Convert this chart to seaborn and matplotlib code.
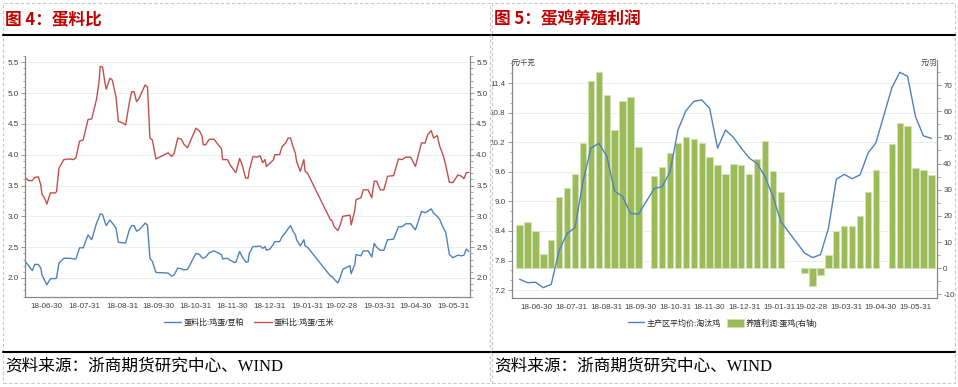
import numpy as np
import pandas as pd
import matplotlib
matplotlib.use('Agg')
import matplotlib.pyplot as plt
import matplotlib.dates as mdates
from matplotlib.ticker import MultipleLocator, FormatStrFormatter
from matplotlib.lines import Line2D
from matplotlib.patches import Patch, Rectangle
import seaborn as sns

# ---- data: egg / feed ratio (left chart) ----
ratio_dates = [
    '2018-06-12', '2018-06-15', '2018-06-18', '2018-06-20', '2018-06-23', '2018-06-25', '2018-06-26',
    '2018-06-28', '2018-06-30', '2018-07-03', '2018-07-07', '2018-07-08', '2018-07-10', '2018-07-14',
    '2018-07-19', '2018-07-22', '2018-07-24', '2018-07-27', '2018-07-30', '2018-08-03', '2018-08-06',
    '2018-08-10', '2018-08-12', '2018-08-13', '2018-08-15', '2018-08-17', '2018-08-18', '2018-08-21',
    '2018-08-23', '2018-08-26', '2018-08-28', '2018-09-01', '2018-09-03', '2018-09-06', '2018-09-08',
    '2018-09-10', '2018-09-12', '2018-09-14', '2018-09-17', '2018-09-19', '2018-09-21', '2018-09-23',
    '2018-09-25', '2018-09-28', '2018-10-08', '2018-10-11', '2018-10-13', '2018-10-16', '2018-10-19',
    '2018-10-21', '2018-10-24', '2018-10-27', '2018-10-31', '2018-11-03', '2018-11-05', '2018-11-06',
    '2018-11-08', '2018-11-11', '2018-11-15', '2018-11-18', '2018-11-21', '2018-11-22', '2018-11-26',
    '2018-11-28', '2018-12-02', '2018-12-03', '2018-12-06', '2018-12-08', '2018-12-11', '2018-12-13',
    '2018-12-14', '2018-12-17', '2018-12-20', '2018-12-23', '2018-12-25', '2018-12-27', '2018-12-28',
    '2018-12-31', '2019-01-03', '2019-01-04', '2019-01-08', '2019-01-10', '2019-01-13', '2019-01-15',
    '2019-01-17', '2019-01-19', '2019-01-21', '2019-01-22', '2019-01-25', '2019-01-28', '2019-01-29',
    '2019-01-31', '2019-02-19', '2019-02-20', '2019-02-22', '2019-02-25', '2019-02-27', '2019-03-01',
    '2019-03-07', '2019-03-08', '2019-03-11', '2019-03-12', '2019-03-16', '2019-03-18', '2019-03-22',
    '2019-03-25', '2019-03-27', '2019-03-29', '2019-04-01', '2019-04-04', '2019-04-07', '2019-04-12',
    '2019-04-16', '2019-04-19', '2019-04-22', '2019-04-26', '2019-04-30', '2019-05-05', '2019-05-08',
    '2019-05-10', '2019-05-13', '2019-05-15', '2019-05-18', '2019-05-20', '2019-05-23', '2019-05-25',
    '2019-05-28', '2019-05-31', '2019-06-04', '2019-06-07', '2019-06-09', '2019-06-11', '2019-06-13',
]
ratio_soymeal = [
    2.27, 2.20, 2.12, 2.22, 2.22, 2.16, 2.05, 1.97, 1.89, 1.99, 1.99, 2.00, 2.24, 2.32,
    2.32, 2.31, 2.31, 2.49, 2.49, 2.70, 2.62, 2.89, 2.98, 3.04, 3.03, 2.90, 2.85, 2.94,
    2.89, 2.81, 2.58, 2.57, 2.57, 2.78, 2.85, 2.85, 2.76, 2.78, 2.84, 2.89, 2.86, 2.32,
    2.27, 2.09, 2.08, 2.03, 2.05, 2.16, 2.15, 2.13, 2.14, 2.25, 2.40, 2.38, 2.33, 2.32,
    2.34, 2.41, 2.44, 2.41, 2.38, 2.31, 2.32, 2.29, 2.25, 2.26, 2.43, 2.35, 2.26, 2.26,
    2.40, 2.51, 2.51, 2.52, 2.48, 2.51, 2.45, 2.47, 2.55, 2.59, 2.59, 2.67, 2.74, 2.80,
    2.85, 2.76, 2.70, 2.62, 2.52, 2.62, 2.52, 2.50, 2.03, 2.03, 1.98, 1.92, 2.01, 2.14,
    2.20, 2.07, 2.22, 2.38, 2.36, 2.44, 2.44, 2.34, 2.56, 2.50, 2.45, 2.45, 2.62, 2.63,
    2.83, 2.83, 2.88, 2.88, 2.78, 3.08, 3.06, 3.08, 3.12, 3.05, 3.00, 2.95, 2.81, 2.74,
    2.38, 2.33, 2.37, 2.36, 2.37, 2.47, 2.43,
]
ratio_corn = [
    3.63, 3.58, 3.58, 3.63, 3.64, 3.51, 3.36, 3.30, 3.20, 3.38, 3.38, 3.40, 3.78, 3.92,
    3.93, 3.92, 3.95, 4.22, 4.24, 4.57, 4.58, 4.90, 5.17, 5.43, 5.42, 5.16, 5.06, 5.24,
    5.21, 4.94, 4.54, 4.51, 4.48, 4.84, 5.02, 5.02, 4.86, 4.91, 5.04, 5.13, 5.10, 4.27,
    4.24, 3.93, 4.03, 3.97, 4.02, 4.27, 4.25, 4.17, 4.11, 4.25, 4.43, 4.38, 4.30, 4.16,
    4.16, 4.25, 4.25, 4.17, 4.10, 3.92, 3.92, 3.84, 3.73, 3.71, 3.94, 3.84, 3.62, 3.62,
    3.75, 3.97, 3.96, 3.98, 3.87, 3.92, 3.81, 3.86, 3.92, 4.00, 4.00, 4.13, 4.19, 4.27,
    4.27, 4.13, 4.02, 3.89, 3.73, 3.92, 3.73, 3.70, 2.94, 2.94, 2.83, 2.77, 2.86, 3.00,
    3.02, 2.86, 3.10, 3.27, 3.30, 3.43, 3.43, 3.30, 3.57, 3.57, 3.43, 3.43, 3.65, 3.66,
    3.93, 3.92, 3.96, 3.96, 3.81, 4.19, 4.19, 4.32, 4.39, 4.27, 4.31, 4.14, 3.98, 3.83,
    3.55, 3.55, 3.67, 3.65, 3.61, 3.71, 3.71,
]

# ---- data: layer farming profit (right chart), weekly ----
week_dates = pd.date_range('2018-06-15', periods=53, freq='7D')
cull_hen_price = [
    7.42, 7.35, 7.36, 7.25, 7.32, 8.01, 8.35, 8.47, 9.40, 10.08, 10.18, 9.92, 9.21, 9.10,
    8.76, 8.74, np.nan, 9.26, 9.30, 9.60, 10.45, 10.84, 11.03, 11.06, 10.89, 10.08, 10.45,
    10.30, 10.08, 9.88, 9.77, 9.50, 9.10, 8.59, np.nan, np.nan, 7.95, 7.86, 7.92, 8.45,
    9.45, 9.55, 9.46, 9.54, 9.98, 10.19, np.nan, 11.30, 11.62, 11.54, 10.72, 10.33, 10.28,
]
layer_profit = [
    16.6, 17.7, 14.1, 5.4, 10.9, 27.1, 30.5, 35.9, 48.0, 71.4, 75.2, 66.2, 52.8, 64.0,
    65.6, 46.5, np.nan, 35.2, 38.8, 44.2, 48.0, 50.2, 49.3, 47.8, 42.5, 39.4, 36.2,
    39.7, 39.3, 36.2, 41.9, 48.7, 37.1, 29.2, np.nan, np.nan, -2.0, -6.8, -2.7, 5.1,
    14.1, 16.0, 16.3, 19.8, 29.2, 37.4, np.nan, 47.4, 55.7, 54.3, 38.4, 37.4, 35.7,
]

month_ticks = ['2018-06-30', '2018-07-31', '2018-08-31', '2018-09-30', '2018-10-31', '2018-11-30',
               '2018-12-31', '2019-01-31', '2019-02-28', '2019-03-31', '2019-04-30', '2019-05-31']

ratio_labels = ['蛋料比:鸡蛋/豆粕', '蛋料比:鸡蛋/玉米']
profit_labels = ['主产区平均价:淘汰鸡', '养殖利润:蛋鸡(右轴)']
titles = ['图 4：蛋料比', '图 5：蛋鸡养殖利润']
source_text = '资料来源：浙商期货研究中心、WIND'

# ---- style ----
sns.set_theme(style='white')
plt.rcParams['font.family'] = ['Liberation Sans', 'Noto Sans CJK SC']

BLUE = '#4F81BD'
RED = '#C0504D'
GREEN = '#9BBB59'
SPINE = '#868686'
TXT = '#404040'
GRID = '#EBEBEB'

W, H = 958, 387
def fx(x):
    return x / W
def fy(y):
    return 1 - y / H

fig = plt.figure(figsize=(W / 100, H / 100), dpi=100)
fig.patch.set_facecolor('white')


def style_axis(ax):
    ax.spines['top'].set_visible(False)
    for s in ['left', 'right', 'bottom']:
        ax.spines[s].set_color(SPINE)
        ax.spines[s].set_linewidth(0.8)
    ax.tick_params(which='both', colors=SPINE, labelcolor=TXT, labelsize=5.8, direction='out')
    ax.tick_params(which='major', length=3, width=0.6, pad=1.5)
    ax.tick_params(which='minor', length=1.8, width=0.5)
    ax.set_xlabel('')
    ax.set_ylabel('')


def date_axis(ax, start, end):
    ax.set_xlim(pd.Timestamp(start), pd.Timestamp(end))
    ax.set_xticks(pd.to_datetime(month_ticks))
    ax.xaxis.set_major_formatter(mdates.DateFormatter('%y-%m-%d'))
    ax.xaxis.set_minor_locator(mdates.DayLocator(bymonthday=[10, 20]))


# ---- left chart ----
ratio_df = pd.DataFrame({'date': pd.to_datetime(ratio_dates),
                         'soymeal': ratio_soymeal, 'corn': ratio_corn})

ax1 = fig.add_axes([fx(25), fy(296.5), fx(470) - fx(25), fy(56) - fy(296.5)])
ax1.grid(axis='y', which='major', color=GRID, lw=0.6)
ax1.grid(axis='x', visible=False)
sns.lineplot(data=ratio_df, x='date', y='soymeal', ax=ax1, color=BLUE, lw=1.0)
sns.lineplot(data=ratio_df, x='date', y='corn', ax=ax1, color=RED, lw=1.0)
ax1.set_ylim(1.70, 5.60)
date_axis(ax1, '2018-06-12', '2019-06-14')

ax1r = ax1.twinx()
ax1r.set_ylim(ax1.get_ylim())
for ax in (ax1, ax1r):
    ax.yaxis.set_major_locator(MultipleLocator(0.5))
    ax.yaxis.set_minor_locator(MultipleLocator(0.1))
    ax.yaxis.set_major_formatter(FormatStrFormatter('%.1f'))
    style_axis(ax)
ax1r.grid(False)

fig.legend([Line2D([], [], color=BLUE, lw=1.0), Line2D([], [], color=RED, lw=1.0)], ratio_labels,
           loc='center', bbox_to_anchor=(fx(249), fy(323)), ncol=2, frameon=False,
           fontsize=5.8, handlelength=2.2, handletextpad=0.3, columnspacing=1.2)

# ---- right chart ----
ax2 = fig.add_axes([fx(511.7), fy(298), fx(937) - fx(511.7), fy(60) - fy(298)])
ax2.grid(axis='y', which='major', color=GRID, lw=0.6)
ax2.grid(axis='x', visible=False)
ax2.set_ylim(7.04, 11.87)
ax2.yaxis.set_major_locator(MultipleLocator(0.6))
ax2.yaxis.set_minor_locator(MultipleLocator(0.2))
ax2.yaxis.set_major_formatter(FormatStrFormatter('%.1f'))
date_axis(ax2, '2018-06-08', '2019-06-19')

ax2r = ax2.twinx()
profit_df = pd.DataFrame({'date': week_dates, 'profit': layer_profit, 'price': cull_hen_price})
bars = profit_df.dropna(subset=['profit'])
ax2r.bar(bars['date'], bars['profit'], width=5.6, color=GREEN, edgecolor='#D3E2B6', linewidth=0.7)
ax2r.set_ylim(-11.4, 79.6)
ax2r.yaxis.set_major_locator(MultipleLocator(10))
ax2r.yaxis.set_minor_locator(MultipleLocator(5))
ax2r.yaxis.set_major_formatter(FormatStrFormatter('%d'))
ax2r.grid(False)
for ax in (ax2, ax2r):
    style_axis(ax)

ax2top = ax2.twinx()
sns.lineplot(data=profit_df.dropna(subset=['price']), x='date', y='price', ax=ax2top, color=BLUE, lw=1.0)
ax2top.set_ylim(ax2.get_ylim())
ax2top.set_xlim(ax2.get_xlim())
ax2top.axis('off')

fig.text(fx(512), fy(63.5), '元/千克', fontsize=5.2, color=TXT, ha='left', va='center')
fig.text(fx(937), fy(63.5), '元/羽', fontsize=5.2, color=TXT, ha='right', va='center')

fig.legend([Line2D([], [], color=BLUE, lw=1.0),
            Patch(facecolor=GREEN, edgecolor='#D3E2B6', linewidth=0.7)], profit_labels,
           loc='center', bbox_to_anchor=(fx(723), fy(323)), ncol=2, frameon=False,
           fontsize=5.8, handlelength=2.0, handleheight=1.2, handletextpad=0.3, columnspacing=0.8)

# ---- report frame: titles, rules, source ----
for x0, x1, title in [(3, 490, titles[0]), (492, 955, titles[1])]:
    fig.add_artist(Rectangle((fx(x0), fy(383)), fx(x1) - fx(x0), fy(3) - fy(383),
                             transform=fig.transFigure, fill=False, edgecolor='#C8C8C8',
                             linestyle=(0, (3, 2)), lw=0.8))
    fig.add_artist(Line2D([fx(x0), fx(x1)], [fy(35), fy(35)], transform=fig.transFigure,
                          color='black', lw=1.5))
    fig.add_artist(Line2D([fx(x0), fx(x1)], [fy(352), fy(352)], transform=fig.transFigure,
                          color='black', lw=1.5))
    fig.text(fx(x0 + 2), fy(19), title, color='#C00000', fontsize=12, fontweight='bold',
             ha='left', va='center', family=['Noto Sans CJK SC'])
    fig.text(fx(x0 + 2), fy(367), source_text, color='black', fontsize=12,
             ha='left', va='center', family=['Liberation Serif', 'Noto Sans CJK SC'])

fig.savefig('out.png', dpi=100, facecolor='white')
